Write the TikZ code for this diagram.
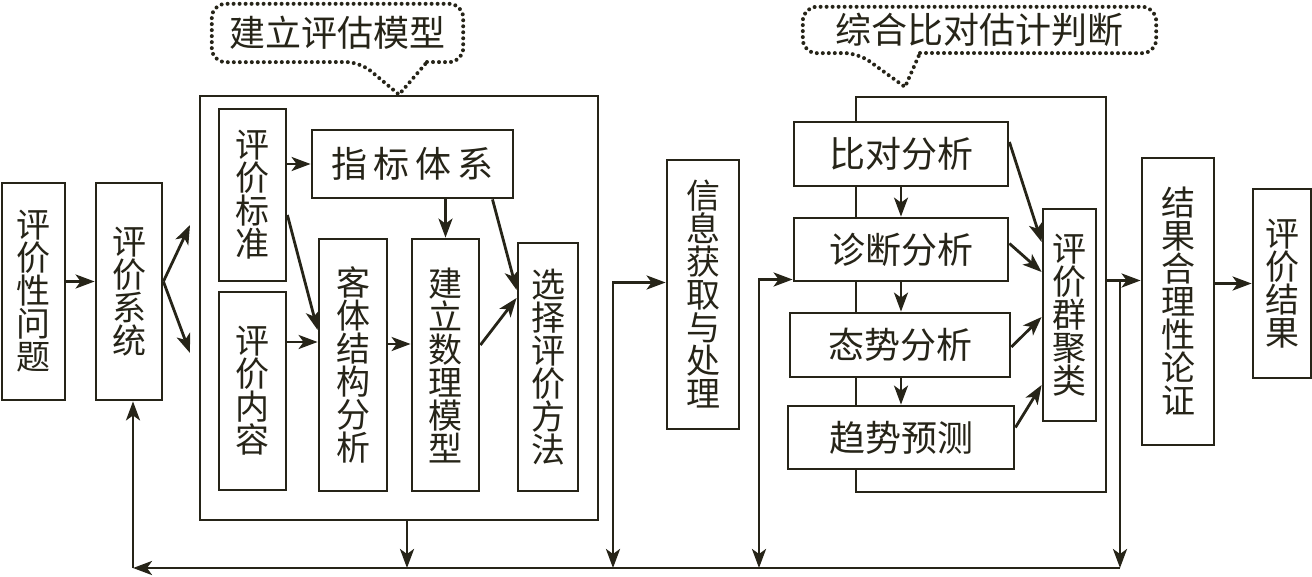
\documentclass[tikz,border=0pt]{standalone}
\usepackage{fontspec}
\usepackage{tikz}
\usetikzlibrary{arrows.meta}
\newfontfamily\cjk{Noto Sans CJK SC}
\definecolor{ink}{RGB}{38,36,24}
\tikzset{>={Stealth[length=19pt,width=14pt,inset=5pt]}}

\begin{document}
\begin{tikzpicture}[x=1pt,y=-1pt]
	\tikzstyle{box}=[draw=ink,line width=2.8pt,fill=white,inner sep=0pt,align=center,text=ink,font={\cjk\fontsize{34}{33}\selectfont}]
	\tikzstyle{wide}=[box,font={\cjk\fontsize{36}{36}\selectfont}]
	\tikzstyle{frame}=[draw=ink,line width=2.8pt,inner sep=0pt]
	\tikzstyle{arr}=[draw=ink,line width=2.8pt,->]
	\tikzstyle{both}=[draw=ink,line width=2.8pt,<->]
	\tikzstyle{tag}=[text=ink,inner sep=0pt,font={\cjk\fontsize{36}{36}\selectfont}]
	\tikzstyle{tagline}=[draw=ink,line width=4pt,line cap=round,dash pattern=on 0pt off 6pt]
	\useasboundingbox (0,0) rectangle (1312,576);

	% the two big frames
	\node [frame,minimum width=398pt,minimum height=424pt] (model) at (399,308) {};
	\node [frame,minimum width=250pt,minimum height=395pt] (judge) at (981,294.5) {};

	\node [box,minimum width=63pt,minimum height=217pt] (issue) at (33.5,291.5) {评\\价\\性\\问\\题};
	\node [box,minimum width=66pt,minimum height=217pt] (sys) at (129,291.5) {评\\价\\系\\统};
	\node [box,minimum width=67pt,minimum height=172pt] (std) at (252.5,195) {评\\价\\标\\准};
	\node [box,minimum width=67pt,minimum height=198pt] (cont) at (252.5,391) {评\\价\\内\\容};
	\node [wide,minimum width=201pt,minimum height=68pt] (idx) at (412.5,164) {指\,标\,体\,系};
	\node [box,minimum width=68pt,minimum height=252pt] (obj) at (353,365) {客\\体\\结\\构\\分\\析};
	\node [box,minimum width=67pt,minimum height=252pt] (math) at (445.5,365) {建\\立\\数\\理\\模\\型};
	\node [box,minimum width=60pt,minimum height=248pt] (meth) at (548,367) {选\\择\\评\\价\\方\\法};
	\node [box,minimum width=72pt,minimum height=269pt] (info) at (703,294.5) {信\\息\\获\\取\\与\\处\\理};
	\node [wide,minimum width=214pt,minimum height=64pt] (cmp) at (901,154) {比对分析};
	\node [wide,minimum width=214pt,minimum height=63pt] (diag) at (901,249.5) {诊断分析};
	\node [wide,minimum width=220pt,minimum height=64pt] (sit) at (900,345) {态势分析};
	\node [wide,minimum width=226pt,minimum height=63pt] (trend) at (901,437.5) {趋势预测};
	\node [box,minimum width=53pt,minimum height=212pt] (clu) at (1069.5,315) {评\\价\\群\\聚\\类};
	\node [box,minimum width=72pt,minimum height=287pt] (just) at (1178,301.5) {结\\果\\合\\理\\性\\论\\证};
	\node [box,minimum width=58pt,minimum height=189pt] (res) at (1282,283.5) {评\\价\\结\\果};

	% callouts
	\node [tag,minimum width=251pt,minimum height=58pt] (tagA) at (337.5,33) {建立评估模型};
	\draw [tagline] (427,62) [rounded corners=14pt] -- (tagA.south east) -- (tagA.north east) -- (tagA.north west) -- (tagA.south west) -- (360,62) [sharp corners] -- (model.north) -- cycle;
	\node [tag,minimum width=353pt,minimum height=46pt] (tagB) at (979.5,30) {综合比对估计判断};
	\draw [tagline] (920,53) [rounded corners=14pt] -- (tagB.south east) -- (tagB.north east) -- (tagB.north west) -- (tagB.south west) -- (858,53) [sharp corners] -- (905,87) -- cycle;

	% feedback bus
	\coordinate (busL) at (133,568);
	\coordinate (tapA) at (613,568);
	\coordinate (tapB) at (759,568);
	\coordinate (busR) at (1120,568);
	\coordinate (forkA) at (190,225);
	\coordinate (forkB) at (190,353);

	\draw [arr] ([yshift=10pt]issue.east) -- ([yshift=10pt]sys.west);
	\draw [arr] ([yshift=10pt]sys.east) -- (forkA);
	\draw [arr] ([yshift=10pt]sys.east) -- (forkB);
	\draw [arr] (std.east |- idx.west) -- (idx.west);
	\draw [arr] ([yshift=-20pt]std.east) -- ([yshift=35pt]obj.west);
	\draw [arr] ([yshift=49pt]cont.east) -- ([yshift=23pt]obj.west);
	\draw [arr] ([yshift=21pt]obj.east) -- ([yshift=21pt]math.west);
	\draw [arr] (idx.south -| math.north) -- (math.north);
	\draw [arr] ([xshift=80pt]idx.south) -- ([yshift=77pt]meth.west);
	\draw [arr] ([yshift=20pt]math.east) -- ([yshift=69pt]meth.west);

	\draw [arr] (cmp.south) -- (diag.north);
	\draw [arr] (diag.south) -- (diag.south |- sit.north);
	\draw [arr] (sit.south -| diag.south) -- (trend.north -| diag.south);
	\draw [arr] ([yshift=12pt]cmp.east) -- ([yshift=73pt]clu.west);
	\draw [arr] ([yshift=6pt]diag.east) -- ([yshift=43pt]clu.west);
	\draw [arr] ([yshift=-2pt]sit.east) -- ([yshift=-2pt]clu.west);
	\draw [arr] ([yshift=10pt]trend.east) -- ([yshift=-70pt]clu.west);

	\draw [arr] ([yshift=14pt]judge.east) -- ([yshift=14pt]judge.east -| just.west);
	\draw [arr] (just.east |- res.west) -- (res.west);

	\draw [arr] ([xshift=8pt]model.south) -- ([xshift=8pt]model.south |- busL);
	\draw [both] (tapA) |- ([yshift=12pt]info.west);
	\draw [both] (tapB) |- ([yshift=-30pt]diag.west);
	\draw [arr] ([yshift=14pt]judge.east -| busR) -- (busR);
	\draw [arr] (busR) -- (busL);
	\draw [arr] (busL) -- (busL |- sys.south);
\end{tikzpicture}
\end{document}
